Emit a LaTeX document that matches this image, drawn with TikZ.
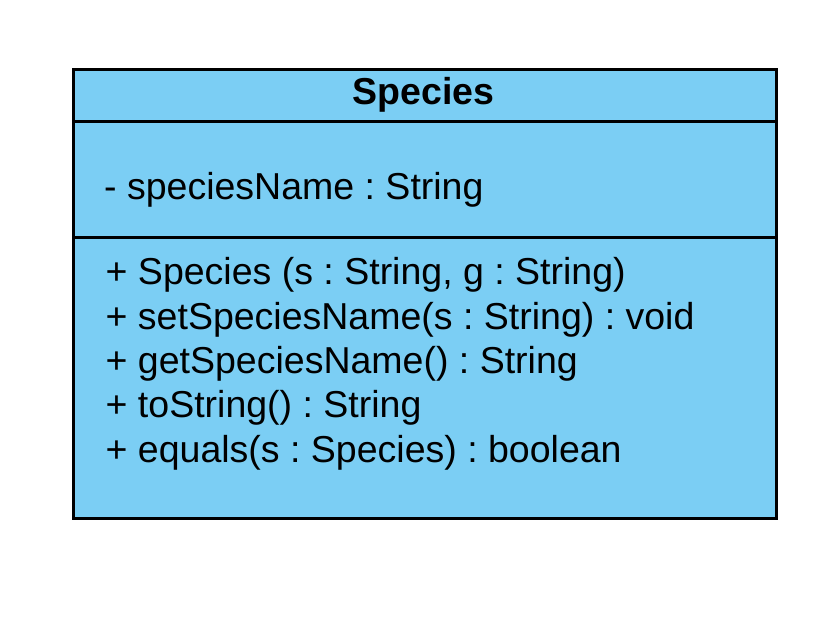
\documentclass[tikz,border=0pt]{standalone}
\usepackage{fontspec}
\setmainfont{Liberation Sans}
\frenchspacing
\begin{document}
\begin{tikzpicture}[
            x = 1pt, y = -1pt,
            every node/.style={inner sep=0pt, text depth=0pt},
            line/.style={line width = 3pt},
            classbox/.style={line, draw=black, fill={rgb,255:red,123;green,206;blue,244}, rectangle, anchor=north west},
            member/.style={anchor=base west, font=\fontsize{37.5}{44}\selectfont},
            ]
        \useasboundingbox (0,0) rectangle (822,636);
        \node[classbox, minimum width=702.5pt, minimum height=449.3pt] (species) at (72,68) {};
        \coordinate (h1) at (0,121.3);
        \coordinate (h2) at (0,238);
        \draw[line] (species.west |- h1) -- (species.east |- h1);
        \draw[line] (species.west |- h2) -- (species.east |- h2);
        \node[member, anchor=base, font=\fontsize{37.5}{44}\selectfont\bfseries] (title) at (423.5,105) {Species};
        \node[member] (attr) at (104,200) {- speciesName : String};
        \foreach \m [count=\i] in {{+ Species (s : String, g : String)}, {+ setSpeciesName(s : String) : void}, {+ getSpeciesName() : String}, {+ toString() : String}, {+ equals(s : Species) : boolean}}
            \node[member] (m\i) at (105.5,285+44.3*\i-44.3) {\m};
    \end{tikzpicture}
\end{document}
